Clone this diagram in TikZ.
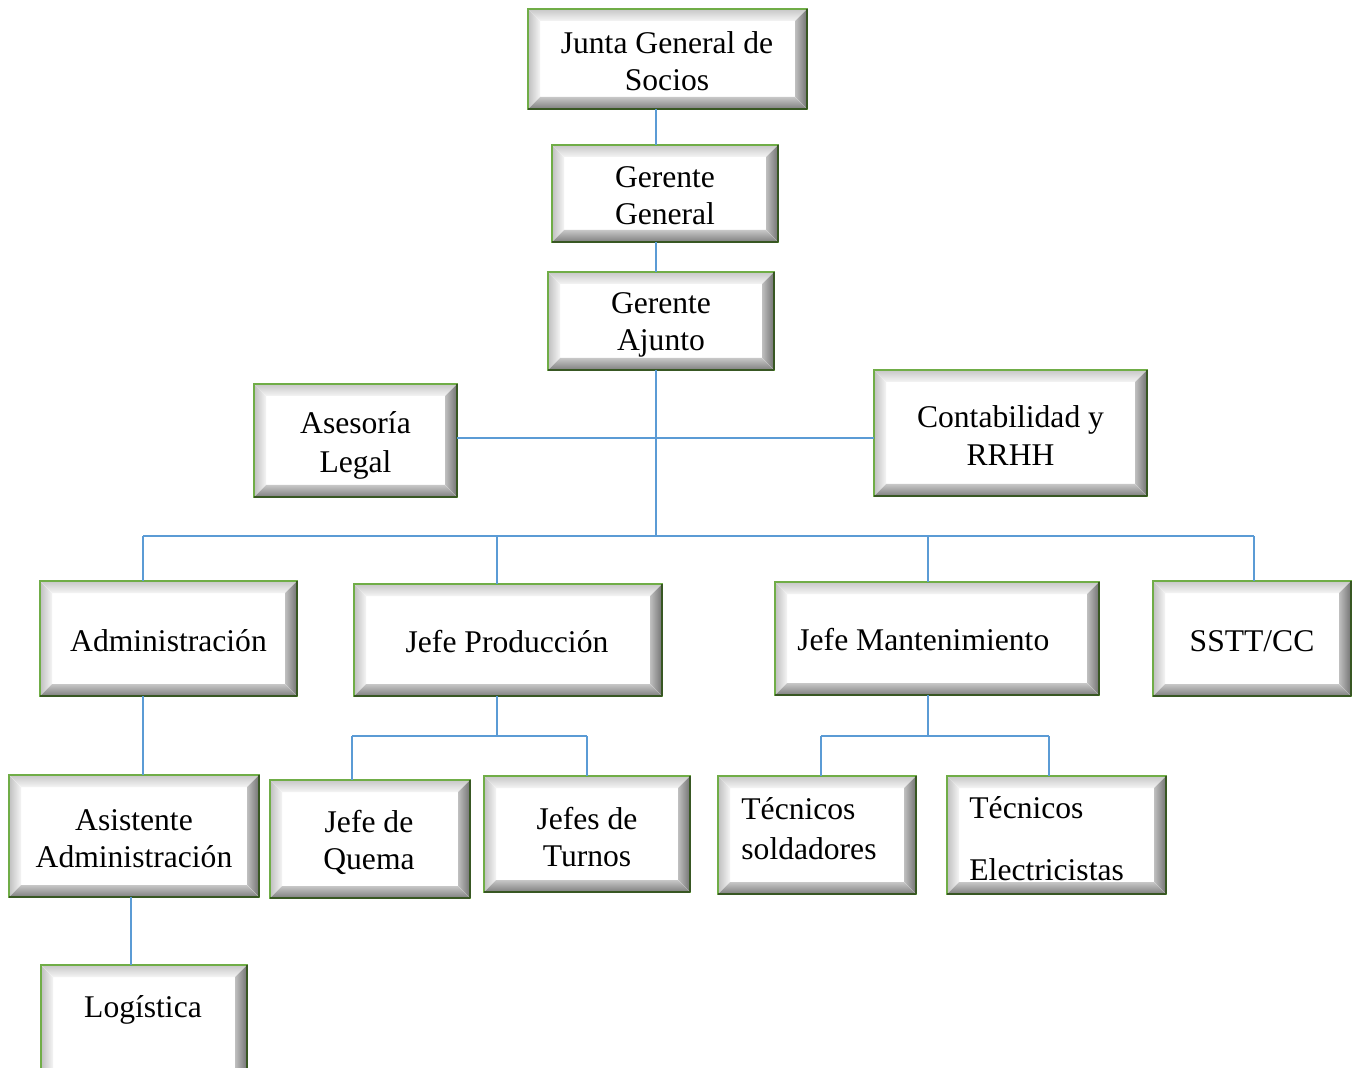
\documentclass[tikz,border=0pt]{standalone}
\usepackage{fontspec}
\setmainfont{Liberation Serif}
\definecolor{lgreen}{RGB}{112,173,71}
\definecolor{dgreen}{RGB}{56,87,35}
\definecolor{lineblue}{RGB}{91,155,213}
\tikzset{
  bbox/.style n args={2}{rectangle, inner sep=0pt, outer sep=0pt, fill=white,
    minimum width=#1*0.5pt, minimum height=#2*0.5pt,
    draw=lgreen, line width=1pt, align=center,
    font=\fontsize{15.8pt}{18.5pt}\selectfont,
    path picture={
      \path (path picture bounding box.south west) coordinate (bl)
            (path picture bounding box.north east) coordinate (tr)
            (path picture bounding box.north west) coordinate (tl)
            (path picture bounding box.south east) coordinate (br);
      \fill[top color=black!22, bottom color=black!4]
        (tl) -- (tr) -- ([xshift=-6pt,yshift=-6pt]tr) -- ([xshift=6pt,yshift=-6pt]tl) -- cycle;
      \fill[left color=black!25, right color=black!4]
        (tl) -- ([xshift=6pt,yshift=-6pt]tl) -- ([xshift=6pt,yshift=6pt]bl) -- (bl) -- cycle;
      \fill[left color=black!25, right color=black!55]
        (tr) -- (br) -- ([xshift=-6pt,yshift=6pt]br) -- ([xshift=-6pt,yshift=-6pt]tr) -- cycle;
      \fill[top color=black!22, bottom color=black!50]
        (bl) -- ([xshift=6pt,yshift=6pt]bl) -- ([xshift=-6pt,yshift=6pt]br) -- (br) -- cycle;
    },
    append after command={
      (\tikzlastnode.north east) edge[draw=dgreen, line width=1pt] (\tikzlastnode.south east)
      (\tikzlastnode.south east) edge[draw=dgreen, line width=1pt] (\tikzlastnode.south west)
    }},
  btext/.style={inner sep=0pt, align=left, font=\fontsize{15.8pt}{18.5pt}\selectfont},
  ctext/.style={inner sep=0pt, align=center, font=\fontsize{15.8pt}{18.5pt}\selectfont},
  conn/.style={draw=lineblue, line width=0.6pt}
}
\begin{document}
\begin{tikzpicture}[x=0.5pt,y=-0.5pt]
\useasboundingbox (0,0) rectangle (1352,1068);
\clip (0,0) rectangle (1352,1068);
\fill[white] (0,0) rectangle (1352,1068);

% boxes
\node[bbox={279}{100}] (junta) at (667.5,59) {};
\node[ctext] (juntat) at (667,61) {Junta General de\\Socios};
\node[bbox={226}{97}] (gg) at (665,193.5) {};
\node[ctext] (ggt) at (665,196) {Gerente\\General};
\node[bbox={226}{98}] (ga) at (661,321) {};
\node[ctext] (gat) at (661,325) {Gerente\\Ajunto};
\node[bbox={203}{113}] (legal) at (355.5,440.5) {};
\node[ctext] (legalt) at (355.5,445) {Asesoría\\[1pt]Legal};
\node[bbox={273}{126}] (conta) at (1010.5,433) {};
\node[ctext] (contat) at (1010.5,436) {Contabilidad y\\[0.5pt]RRHH};
\node[bbox={257}{115}] (admin) at (168.5,638.5) {};
\node[ctext] (admint) at (168.5,641) {Administración};
\node[bbox={308}{112}] (prod) at (508,640) {};
\node[ctext] (prodt) at (507,642) {Jefe Producción};
\node[bbox={324}{113}] (mant) at (937,638.5) {};
\node[btext, anchor=west] (mantt) at (797,640) {Jefe Mantenimiento};
\node[bbox={198}{115}] (sstt) at (1252,638.5) {};
\node[ctext] (ssttt) at (1252,641) {SSTT/CC};
\node[bbox={250}{122}] (asist) at (134,836) {};
\node[ctext] (asistt) at (134,839) {Asistente\\Administración};
\node[bbox={200}{118}] (quema) at (370,839) {};
\node[ctext] (quemat) at (369,842) {Jefe de\\Quema};
\node[bbox={206}{116}] (turnos) at (587,834) {};
\node[ctext] (turnost) at (587,837) {Jefes de\\Turnos};
\node[bbox={198}{118}] (sold) at (817,835) {};
\node[btext, anchor=west] (soldt) at (741,829) {Técnicos\\[1.5pt]soldadores};
\node[bbox={219}{118}] (elec) at (1056.5,835) {};
\node[btext, anchor=west] (elect) at (969,839) {Técnicos\\[12.5pt]Electricistas};
\node[bbox={206}{115}] (logis) at (144,1022.5) {};
\node[ctext] (logist) at (143,1010) {Logística};

% coordinates for connector lines
\coordinate (spine) at (656,0);
\coordinate (midy) at (0,438);
\coordinate (busy) at (0,536);
\coordinate (xa) at (143,0);
\coordinate (xp) at (497,0);
\coordinate (xm) at (928,0);
\coordinate (xs) at (1254,0);
\coordinate (py) at (0,736);
\coordinate (xq) at (352,0);
\coordinate (xt) at (587,0);
\coordinate (xso) at (821,0);
\coordinate (xe) at (1049,0);
\coordinate (xl) at (131,0);

% connectors
\draw[conn] (junta.south -| spine) -- (gg.north -| spine);
\draw[conn] (gg.south -| spine) -- (ga.north -| spine);
\draw[conn] (ga.south -| spine) -- (busy -| spine);
\draw[conn] (legal.east |- midy) -- (conta.west |- midy);
\draw[conn] (busy -| xa) -- (busy -| xs);
\draw[conn] (busy -| xa) -- (admin.north -| xa);
\draw[conn] (busy -| xp) -- (prod.north -| xp);
\draw[conn] (busy -| xm) -- (mant.north -| xm);
\draw[conn] (busy -| xs) -- (sstt.north -| xs);
\draw[conn] (admin.south -| xa) -- (asist.north -| xa);
\draw[conn] (asist.south -| xl) -- (logis.north -| xl);
\draw[conn] (prod.south -| xp) -- (py -| xp);
\draw[conn] (py -| xq) -- (py -| xt);
\draw[conn] (py -| xq) -- (quema.north -| xq);
\draw[conn] (py -| xt) -- (turnos.north -| xt);
\draw[conn] (mant.south -| xm) -- (py -| xm);
\draw[conn] (py -| xso) -- (py -| xe);
\draw[conn] (py -| xso) -- (sold.north -| xso);
\draw[conn] (py -| xe) -- (elec.north -| xe);
\end{tikzpicture}
\end{document}
